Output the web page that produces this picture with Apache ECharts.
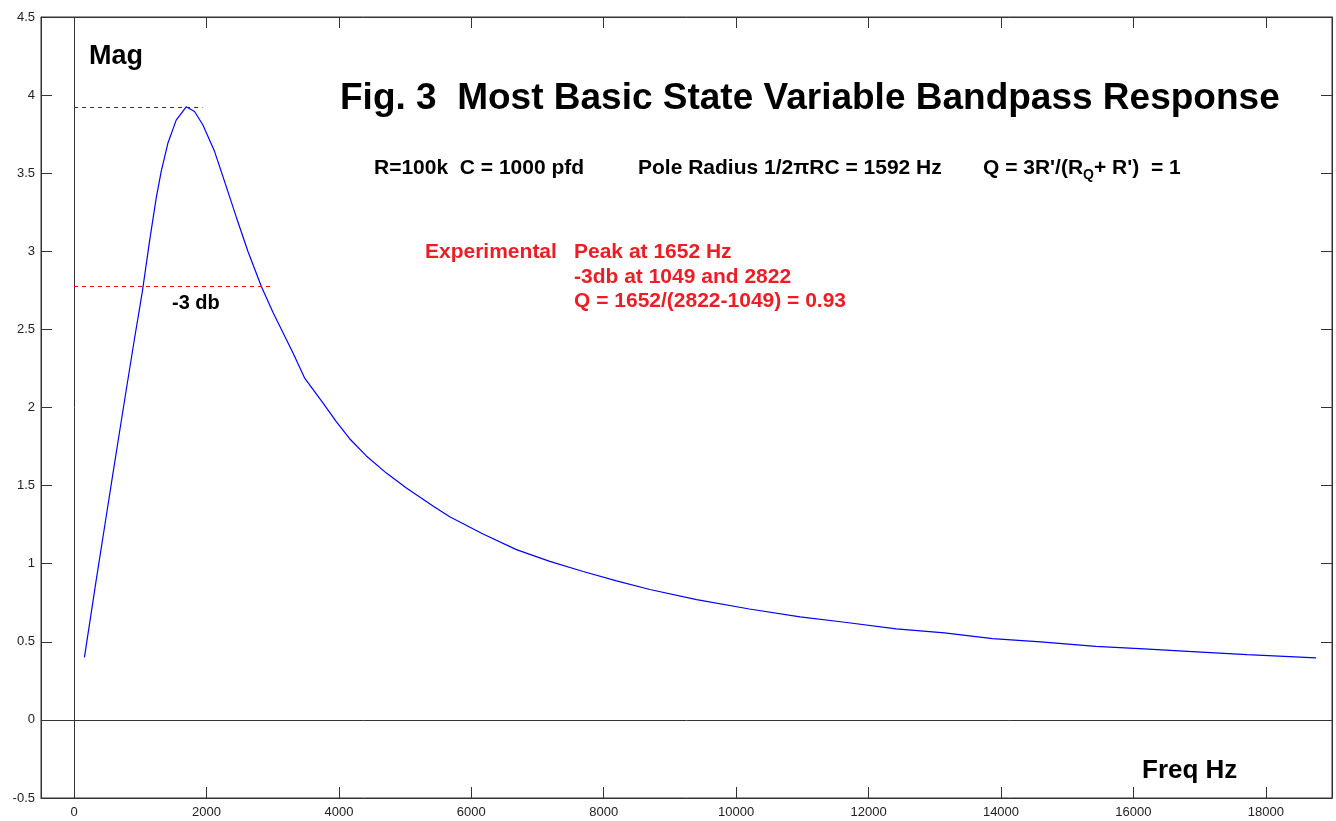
<!DOCTYPE html>
<html>
<head>
<meta charset="utf-8">
<title>Fig. 3 Most Basic State Variable Bandpass Response</title>
<script src="https://cdn.jsdelivr.net/npm/echarts@6/dist/echarts.min.js"></script>
<style>
  html, body { margin: 0; padding: 0; background: #fff; }
  #chart { width: 1336px; height: 821px; }
</style>
</head>
<body>
<div id="chart"></div>
<script>
// Measured bandpass magnitude vs. frequency
const freqHz = [156, 332, 458, 584, 685, 760, 836, 912, 987, 1037, 1138, 1240, 1315, 1415, 1542,
  1693, 1819, 1944, 2121, 2247, 2348, 2449, 2625, 2827, 3003, 3154, 3305, 3480,
  3758, 3960, 4162, 4414, 4717, 5019, 5421, 5673, 6177, 6681, 7185, 7689, 8193, 8697, 9403,
  10200, 10965, 11640, 12419, 13146, 13873, 14600, 15431, 16159, 16887, 17717, 18758];
const mag = [0.40, 0.89, 1.23, 1.57, 1.84, 2.04, 2.24, 2.44, 2.63, 2.76, 3.06, 3.34, 3.51, 3.69, 3.84,
  3.925, 3.895, 3.81, 3.64, 3.48, 3.35, 3.22, 3.00, 2.776, 2.61, 2.48, 2.35, 2.19,
  2.03, 1.91, 1.80, 1.69, 1.58, 1.485, 1.37, 1.30, 1.19, 1.09, 1.015, 0.95, 0.89, 0.835, 0.77,
  0.71, 0.66, 0.625, 0.583, 0.557, 0.52, 0.50, 0.471, 0.455, 0.437, 0.418, 0.397];

const xTicks = [0, 2000, 4000, 6000, 8000, 10000, 12000, 14000, 16000, 18000];

const titleText = 'Fig. 3  Most Basic State Variable Bandpass Response';
const circuitText = 'R=100k  C = 1000 pfd';
const poleText = 'Pole Radius 1/2\u03C0RC = 1592 Hz';
const expLabel = 'Experimental';
const expLines = ['Peak at 1652 Hz', '-3db at 1049 and 2822', 'Q = 1652/(2822-1049) = 0.93'];

const peakMag = Math.max(...mag);
const halfPowerMag = peakMag / Math.SQRT2;

const FONT = '"Liberation Sans", Arial, sans-serif';
const RED = '#ee1c25';
const FRAME = '#333';

// text width helper for placing the subscripted formula pieces
const measureCtx = document.createElement('canvas').getContext('2d');
function textWidth(str, size) {
  measureCtx.font = 'bold ' + size + 'px ' + FONT;
  return measureCtx.measureText(str).width;
}

function txt(x, y, text, size, color) {
  return {
    type: 'text', x: x, y: y, silent: true,
    style: { text: text, fill: color || '#000', font: 'bold ' + size + 'px ' + FONT,
             textAlign: 'left', textVerticalAlign: 'middle', verticalAlign: 'middle' }
  };
}

// Q formula with subscript
const qA = "Q = 3R'/(R", qSub = 'Q', qB = "+ R')  = 1";
const qX = 983, qY = 168.5;
const qAW = textWidth(qA, 21), qSubW = textWidth(qSub, 14);

const seriesData = freqHz.map((f, i) => [f, mag[i]]);

const chart = echarts.init(document.getElementById('chart'), null, { renderer: 'canvas' });

const axisLabelStyle = { color: '#222', fontSize: 13, fontFamily: FONT };

chart.setOption({
  animation: false,
  backgroundColor: '#fff',
  grid: { left: 41, right: 4, top: 17, bottom: 23, show: true, borderColor: FRAME, borderWidth: 1, containLabel: false },
  xAxis: [
    {
      type: 'value', min: -500, max: 19000, position: 'bottom',
      axisLine: { show: true, onZero: false, lineStyle: { color: FRAME } },
      axisTick: { show: true, inside: true, length: 11, customValues: xTicks, lineStyle: { color: FRAME } },
      axisLabel: { show: true, margin: 8, customValues: xTicks, formatter: v => String(v), ...axisLabelStyle },
      splitLine: { show: false }
    },
    {
      type: 'value', min: -500, max: 19000, position: 'top',
      axisLine: { show: true, onZero: false, lineStyle: { color: FRAME } },
      axisTick: { show: true, inside: true, length: 11, customValues: xTicks, lineStyle: { color: FRAME } },
      axisLabel: { show: false },
      splitLine: { show: false }
    }
  ],
  yAxis: [
    {
      type: 'value', min: -0.5, max: 4.5, interval: 0.5, position: 'left',
      axisLine: { show: true, onZero: false, lineStyle: { color: FRAME } },
      axisTick: { show: true, inside: true, length: 11, lineStyle: { color: FRAME } },
      axisLabel: { show: true, margin: 6, ...axisLabelStyle },
      splitLine: { show: false }
    },
    {
      type: 'value', min: -0.5, max: 4.5, interval: 0.5, position: 'right',
      axisLine: { show: true, onZero: false, lineStyle: { color: FRAME } },
      axisTick: { show: true, inside: true, length: 11, lineStyle: { color: FRAME } },
      axisLabel: { show: false },
      splitLine: { show: false }
    }
  ],
  series: [
    {
      type: 'line',
      data: seriesData,
      showSymbol: false,
      smooth: false,
      lineStyle: { color: '#0000ff', width: 1.2 },
      silent: true,
      markLine: {
        silent: true,
        symbol: 'none',
        label: { show: false },
        animation: false,
        data: [
          { xAxis: 0, lineStyle: { color: FRAME, type: 'solid', width: 1 } },
          { yAxis: 0, lineStyle: { color: FRAME, type: 'solid', width: 1 } },
          [
            { coord: [0, peakMag], lineStyle: { color: '#333', type: [4, 4], width: 1 } },
            { coord: [1940, peakMag] }
          ],
          [
            { coord: [0, halfPowerMag], lineStyle: { color: '#ff0000', type: [4, 4], width: 1 } },
            { coord: [3000, halfPowerMag] }
          ]
        ]
      }
    }
  ],
  graphic: [
    txt(89, 56.5, 'Mag', 27),
    txt(340, 99, titleText, 37),
    txt(374, 168.5, circuitText, 21),
    txt(638, 168.5, poleText, 21),
    txt(qX, qY, qA, 21),
    txt(qX + qAW, qY + 6.5, qSub, 14),
    txt(qX + qAW + qSubW, qY, qB, 21),
    txt(425, 252.5, expLabel, 21, RED),
    txt(574, 252.5, expLines[0], 21, RED),
    txt(574, 277, expLines[1], 21, RED),
    txt(574, 301, expLines[2], 21, RED),
    txt(172, 303, '-3 db', 20),
    txt(1142, 771, 'Freq Hz', 26)
  ]
});
</script>
</body>
</html>
